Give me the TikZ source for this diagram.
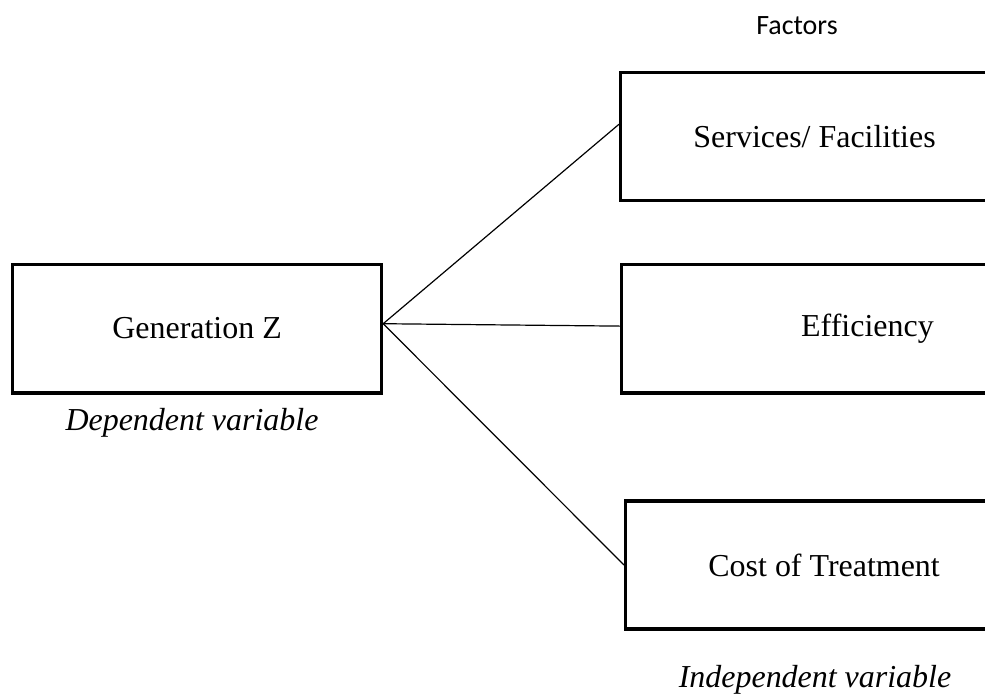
\documentclass[tikz,border=0pt]{standalone}
\usepackage{fontspec}
\setmainfont{Liberation Serif}
\newfontfamily\calibri{Carlito}
\usepackage{tikz}
\usetikzlibrary{positioning}

\begin{document}
\begin{tikzpicture}[
    x=0.0132cm,
    y=-0.0132cm,
    font=\fontsize{12}{14}\selectfont,
    block/.style={
		rectangle,
		draw=black,
		line width=1.2pt,
		inner sep=0pt,
		anchor=west,
		text centered,
		fill=white
	},
	link/.style={
		draw,
		line width=0.45pt
	},
	varlabel/.style={
		font=\fontsize{12}{14}\selectfont\itshape
	}
  ]
    \useasboundingbox (0,0) rectangle (985,697);
    \clip (0,0) rectangle (985,697);

    % We start by placing the blocks
  \node [block, minimum width=4.87cm, minimum height=1.70cm] (genz) at (11,328.5) {Generation Z};

  \node [block, minimum width=5.12cm, minimum height=1.68cm] (services) at (619,136.5) {Services/ Facilities};
  \node [block, minimum width=6.49cm, minimum height=1.70cm] (efficiency) at (620,328.5) {Efficiency};
  \node [block, minimum width=5.24cm, minimum height=1.69cm] (cost) at (624,565) {Cost of Treatment};

  % labels
  \node [varlabel] (dependent) at (192,423) {Dependent variable};
  \node [varlabel] (independent) at (815,680) {Independent variable};
  \node [font=\calibri\fontsize{10.5}{12}\selectfont] (factors) at (797,26) {Factors};

  \draw [link] ([yshift=1.8pt]genz.east) -- ([yshift=4.6pt]services.west);
  \draw [link] ([yshift=1.8pt]genz.east) -- ([yshift=0.9pt]efficiency.west);
  \draw [link] ([yshift=1.8pt]genz.east) -- (cost.west);

\end{tikzpicture}
\end{document}
